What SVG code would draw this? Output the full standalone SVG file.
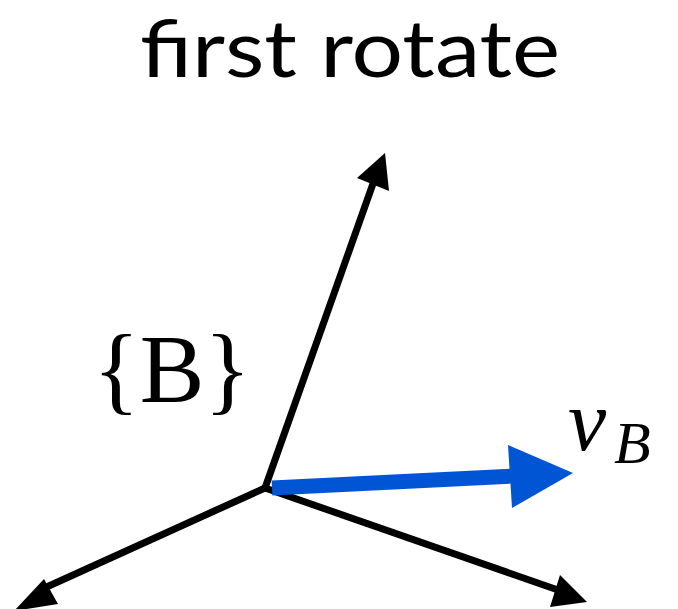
<svg xmlns="http://www.w3.org/2000/svg" width="678" height="609" viewBox="0 0 678 609">
<style>
.ax{stroke:#000;stroke-width:7;fill:none}
.head{fill:#000}
.vec{stroke:#0055d4;stroke-width:15;fill:none}
.vhead{fill:#0055d4}
.serif{font-family:"Liberation Serif","Times New Roman",serif;fill:#000}
</style>
<rect width="678" height="609" fill="#fff"/>
<g id="title"><text x="350" y="77" text-anchor="middle" font-family="Lato,'Open Sans',sans-serif" font-size="80" textLength="420" lengthAdjust="spacingAndGlyphs">first rotate</text></g>
<g id="connectors">
<line class="ax" x1="265" y1="488" x2="375" y2="178"/>
<polygon class="head" points="385,153 357,178 389,191"/>
<line class="ax" x1="265" y1="488" x2="558" y2="590"/>
<polygon class="head" points="587,602 550,607 560,575"/>
<line class="ax" x1="265" y1="488" x2="40" y2="590"/>
<polygon class="head" points="14,611 44,579 58,604"/>
<line class="vec" x1="272" y1="488" x2="515" y2="476"/>
<polygon class="vhead" points="573,473 508,445 512,508"/>
</g>
<g id="frameB"><text class="serif" x="172" y="402" text-anchor="middle" font-size="97">{B}</text></g>
<g id="vB"><text class="serif" x="568" y="450" font-size="86" font-style="italic">v</text><text class="serif" x="614" y="463" font-size="60" font-style="italic">B</text></g>
</svg>
